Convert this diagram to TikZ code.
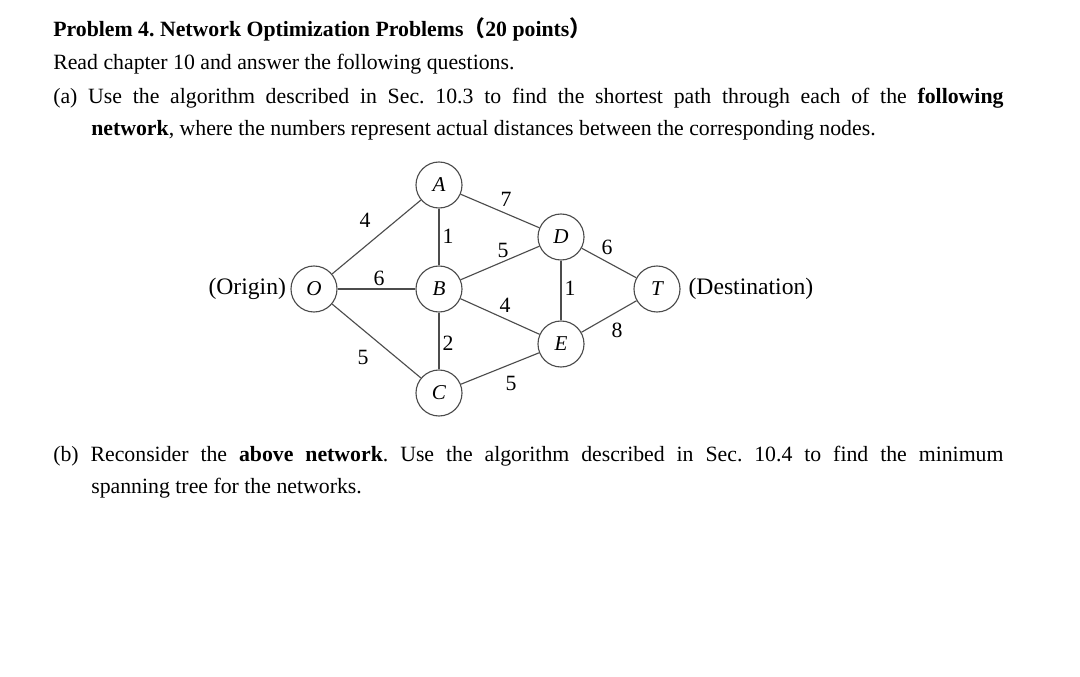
\documentclass[tikz,border=0pt]{standalone}
\usepackage{fontspec}
\setmainfont{Liberation Serif}
\newfontfamily\cjk{Noto Sans CJK SC}
\usepackage{tikz}
\usetikzlibrary{positioning, calc}
\frenchspacing
\tikzset{
    txt/.style={anchor=base west, inner sep=0pt, font=\fontsize{15.5}{18}\selectfont},
    vtx/.style={circle, draw=black!70, line width=0.8pt, fill=white,
                minimum size=1.15cm, inner sep=0pt,
                font=\fontsize{15}{18}\selectfont\itshape},
    wgt/.style={inner sep=1pt, font=\fontsize{15.5}{18}\selectfont},
    side/.style={inner sep=0pt, font=\fontsize{16.8}{19}\selectfont},
    edge/.style={draw=black!70, line width=0.8pt}
}

\begin{document}
\begin{tikzpicture}[x=0.025cm, y=-0.025cm]
\useasboundingbox (0,0) rectangle (1080,677);
\fill[white] (0,0) rectangle (1080,677);

% ── Problem text ──────────────────────────────────────────────────────
\node[txt] at (53,36) (title) {\textbf{Problem 4. Network Optimization Problems{\cjk（}20 points{\cjk）}}};
\node[txt] at (53,69) (intro) {Read chapter 10 and answer the following questions.};
\node[txt] at (53,103) (qa1) {\makebox[23.75cm][s]{(a) Use the algorithm described in Sec. 10.3 to find the shortest path through each of the \textbf{following}}};
\node[txt] at (91,135) (qa2) {\textbf{network}, where the numbers represent actual distances between the corresponding nodes.};

% ── Network nodes ─────────────────────────────────────────────────────
\node[vtx] at (314,289) (O) {O};
\node[vtx] at (439,185) (A) {A};
\node[vtx] at (439,289) (B) {B};
\node[vtx] at (439,393) (C) {C};
\node[vtx] at (561,237) (D) {D};
\node[vtx] at (561,344) (E) {E};
\node[vtx] at (657,289) (T) {T};

\node[side, left=3pt of O] (orig) {(Origin)};
\node[side, right=5.5pt of T] (dest) {(Destination)};

% ── Arcs ──────────────────────────────────────────────────────────────
\draw[edge] (O) -- (A);
\draw[edge] (O) -- (B);
\draw[edge] (O) -- (C);
\draw[edge] (A) -- (B);
\draw[edge] (A) -- (D);
\draw[edge] (B) -- (C);
\draw[edge] (B) -- (D);
\draw[edge] (B) -- (E);
\draw[edge] (C) -- (E);
\draw[edge] (D) -- (E);
\draw[edge] (D) -- (T);
\draw[edge] (E) -- (T);

% ── Distances ─────────────────────────────────────────────────────────
\node[wgt] at (365,220) (wOA) {4};
\node[wgt] at (506,199) (wAD) {7};
\node[wgt] at (448,236) (wAB) {1};
\node[wgt] at (503,250) (wBD) {5};
\node[wgt] at (607,247) (wDT) {6};
\node[wgt] at (379,278) (wOB) {6};
\node[wgt] at (570,288) (wDE) {1};
\node[wgt] at (505,305) (wBE) {4};
\node[wgt] at (617,330) (wET) {8};
\node[wgt] at (448,343) (wBC) {2};
\node[wgt] at (363,357) (wOC) {5};
\node[wgt] at (511,383) (wCE) {5};

% ── Part (b) ──────────────────────────────────────────────────────────
\node[txt] at (53,461) (qb1) {\makebox[23.75cm][s]{(b) Reconsider the \textbf{above network}. Use the algorithm described in Sec. 10.4 to find the minimum}};
\node[txt] at (91,493) (qb2) {spanning tree for the networks.};
\end{tikzpicture}
\end{document}
